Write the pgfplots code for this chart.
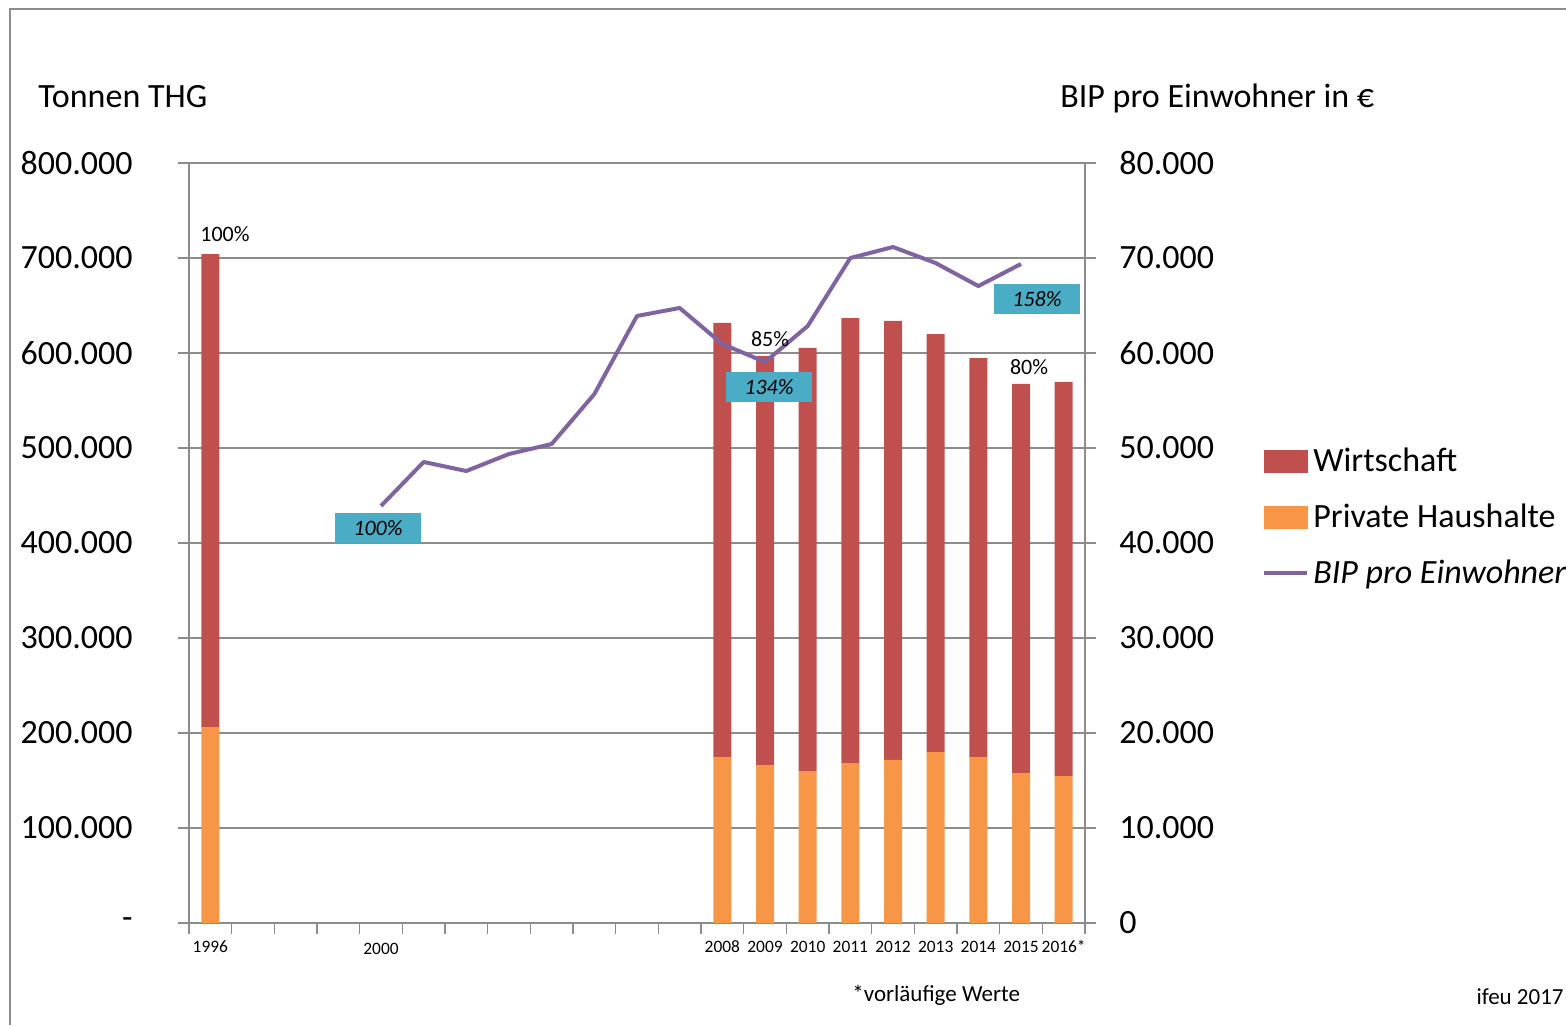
\documentclass[border=0pt]{standalone}
\usepackage{fontspec}
\setmainfont{Carlito}
\usepackage{pgfplots}
\usepackage{pgfplotstable}
\pgfplotsset{compat=1.18}
\definecolor{wirt}{HTML}{C0504D}
\definecolor{priv}{HTML}{F79646}
\definecolor{bip}{HTML}{8064A2}
\definecolor{boxc}{HTML}{4BACC6}
\definecolor{gridc}{HTML}{8C8C8C}

% Tonnen THG: private Haushalte + Wirtschaft (stacked)
\pgfplotstableread{
x  priv   wirt
0  206300 497900
12 174700 456900
13 166300 430500
14 160000 445300
15 168400 468400
16 171600 462100
17 180000 440000
18 174700 420000
19 157900 409500
20 154700 414800
}\thg

% BIP pro Einwohner (2000-2015)
\pgfplotstableread{
x  bip
4  43900
5  48530
6  47580
7  49370
8  50420
9  55680
10 63900
11 64740
12 60950
13 59050
14 62840
15 70000
16 71160
17 69470
18 67050
19 69370
}\bipdata

\newcommand{\bigf}{\fontsize{17}{20}\selectfont}
\newcommand{\smallf}{\fontsize{11}{13}\selectfont}

\begin{document}
\begin{tikzpicture}
\path[use as bounding box] (0pt,0pt) rectangle (783pt,512.5pt);
\begin{scope}[x=0.5pt,y=0.5pt]
\draw[gridc, line width=0.75pt] (10,0) -- (10,1016) -- (1566,1016);
\end{scope}

\begin{axis}[
    at={(94.5pt,51pt)}, anchor=south west,
    scale only axis, width=448pt, height=380pt,
    xmin=-0.5, xmax=20.5, ymin=0, ymax=800000,
    ybar stacked, bar width=9pt,
    axis lines*=left,
    axis line style={gridc, line width=0.75pt},
    tick style={gridc, line width=0.75pt},
    tick align=outside, major tick length=5.5pt,
    ymajorgrids, grid style={gridc, line width=0.75pt},
    scaled y ticks=false,
    ytick={0,100000,...,800000},
    yticklabels={-,100.000,200.000,300.000,400.000,500.000,600.000,700.000,800.000},
    yticklabel style={font=\bigf, anchor=east, inner sep=0pt, xshift=-22.5pt},
    xtick={-0.5,0.5,...,20.5}, xticklabels={},
    extra x ticks={0,4,12,13,14,15,16,17,18,19,20},
    extra x tick labels={1996,\raisebox{-1pt}{2000},2008,2009,2010,2011,2012,2013,2014,2015,2016*},
    extra x tick style={major tick length=0pt,
        xticklabel style={font=\fontsize{8.7}{10}\selectfont, inner sep=0pt, anchor=base, yshift=-14.5pt}},
    /pgf/number format/assume math mode=true,
    legend style={draw=none, fill=none, at={(1.1975,0.534)}, anchor=west,
        inner sep=0pt, font=\bigf, row sep=10.5pt, cells={anchor=west}},
]
\addlegendimage{legend image code/.code={\fill[wirt] (0pt,-5.5pt) rectangle (21.5pt,5.5pt);}}
\addlegendentry{Wirtschaft}
\addlegendimage{legend image code/.code={\fill[priv] (0pt,-5.5pt) rectangle (21.5pt,5.5pt);}}
\addlegendentry{Private Haushalte}
\addlegendimage{legend image code/.code={\draw[bip, line width=2pt] (0pt,0pt) -- (21.5pt,0pt);}}
\addlegendentry{\itshape BIP pro Einwohner}
\addplot[fill=priv, draw=none] table[x=x, y=priv] {\thg};
\addplot[fill=wirt, draw=none] table[x=x, y=wirt] {\thg};
\end{axis}

\begin{axis}[
    at={(94.5pt,51pt)}, anchor=south west,
    scale only axis, width=448pt, height=380pt,
    xmin=-0.5, xmax=20.5, ymin=0, ymax=80000,
    axis y line*=right, axis x line=none,
    axis line style={gridc, line width=0.75pt},
    tick style={gridc, line width=0.75pt},
    tick align=outside, major tick length=5.5pt,
    scaled y ticks=false,
    ytick={0,10000,...,80000},
    yticklabels={0,10.000,20.000,30.000,40.000,50.000,60.000,70.000,80.000},
    yticklabel style={font=\bigf, anchor=west, inner sep=0pt, xshift=11.5pt},
    /pgf/number format/assume math mode=true,
]
\addplot[bip, line width=2pt, line join=round] table[x=x, y=bip] {\bipdata};
\end{axis}

\begin{scope}[x=0.5pt,y=0.5pt]
\node[anchor=west, font=\bigf, inner sep=0pt] at (38,928) {Tonnen THG};
\node[anchor=west, font=\bigf, inner sep=0pt] at (1060,927) {BIP pro Einwohner in €};
\node[font=\smallf, inner sep=0pt] at (225,791) {100\%};
\node[font=\smallf, inner sep=0pt] at (770,686) {85\%};
\node[font=\smallf, inner sep=0pt] at (1029,658) {80\%};
\node[fill=boxc, minimum width=43pt, minimum height=15pt, inner sep=0pt, font=\smallf\itshape] at (378,497) {100\%};
\node[fill=boxc, minimum width=43pt, minimum height=15pt, inner sep=0pt, font=\smallf\itshape] at (769,638) {134\%};
\node[fill=boxc, minimum width=43pt, minimum height=15pt, inner sep=0pt, font=\smallf\itshape] at (1037,726) {158\%};
\node[anchor=west, font=\fontsize{11.5}{13}\selectfont, inner sep=0pt] at (852,30) {*vorläufige Werte};
\node[anchor=east, font=\fontsize{11.5}{13}\selectfont, inner sep=0pt] at (1564,28) {ifeu 2017};
\end{scope}
\end{tikzpicture}
\end{document}
